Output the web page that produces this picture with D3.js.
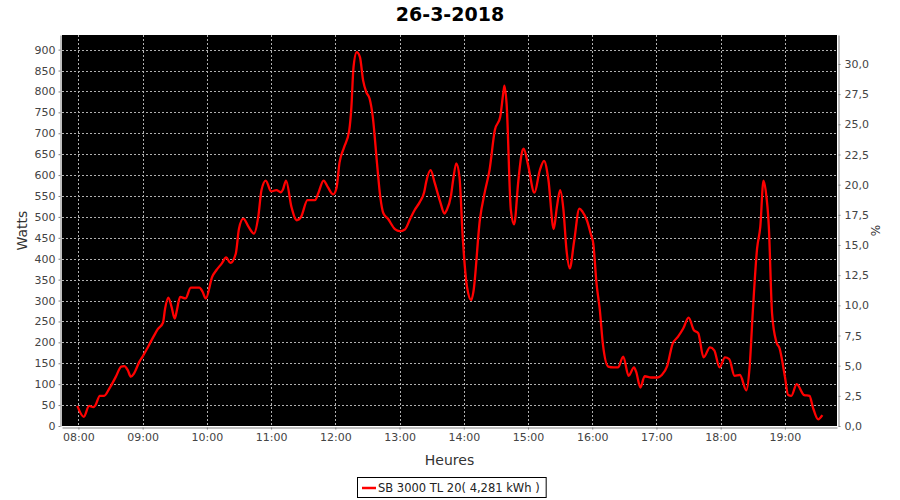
<!DOCTYPE html>
<html>
<head>
<meta charset="utf-8">
<script src="https://cdn.jsdelivr.net/npm/d3@7"></script>
<style>
  html, body { margin: 0; padding: 0; background: #fff; }
  svg { display: block; }
  text { font-family: "DejaVu Sans", sans-serif; }
</style>
</head>
<body>
<svg id="chart" width="900" height="500"></svg>
<script>
// ---- Data ----
const title = "26-3-2018";
const seriesName = "SB 3000 TL 20( 4,281 kWh )";
const times = ["07:59","08:05","08:10","08:14","08:16","08:20","08:24","08:29","08:35","08:40","08:43","08:46","08:49","08:52","08:57",
  "09:00","09:05","09:10","09:14","09:19","09:21","09:24","09:27","09:30","09:32","09:35","09:40","09:45","09:53","09:56","09:59",
  "10:05","10:09","10:14","10:18","10:22","10:27","10:30","10:34","10:39","10:44","10:48","10:51","10:55",
  "11:00","11:05","11:09","11:11","11:14","11:19","11:24","11:28","11:34","11:41","11:44","11:49","11:53","11:58",
  "12:01","12:04","12:08","12:13","12:15","12:17","12:20","12:23","12:26","12:29","12:32","12:35","12:39","12:42","12:45","12:49","12:56",
  "13:00","13:05","13:10","13:14","13:19","13:23","13:25","13:29","13:33","13:38","13:42","13:44","13:48","13:50","13:53","13:56","13:59",
  "14:03","14:07","14:09","14:15","14:20","14:24","14:29","14:34","14:37","14:38","14:40","14:44","14:47","14:51","14:54","14:56",
  "15:00","15:06","15:11","15:15","15:19","15:24","15:27","15:30","15:33","15:36","15:39","15:43","15:48","15:51","15:55","15:59",
  "16:01","16:04","16:07","16:10","16:15","16:20","16:24","16:29","16:34","16:39","16:41","16:45","16:49","16:55",
  "17:01","17:05","17:10","17:15","17:20","17:25","17:30","17:35","17:39","17:44","17:50","17:54","17:59",
  "18:04","18:08","18:13","18:18","18:24","18:27","18:30","18:34","18:37","18:40","18:42","18:45","18:48","18:52","18:55",
  "19:00","19:03","19:06","19:11","19:18","19:23","19:26","19:31","19:35"];
const watts = [48,22,48,45,50,72,72,90,118,142,143,134,118,126,154,
  166,189,213,231,247,281,307,285,257,277,309,305,331,331,321,305,
  357,373,389,403,390,412,472,496,476,460,500,564,587,
  561,564,559,565,587,524,492,500,540,540,556,587,571,554,
  568,631,665,707,762,858,894,882,826,798,783,739,627,548,508,496,470,
  466,470,496,516,536,559,585,612,580,536,508,516,550,587,628,595,452,
  333,301,321,492,564,611,707,739,798,814,771,516,482,587,650,663,
  625,558,611,634,590,471,524,564,520,420,377,440,520,512,492,456,
  436,341,280,195,142,140,140,166,120,140,130,92,119,116,
  116,122,143,196,213,233,259,229,222,164,188,181,140,
  164,160,120,122,85,140,273,424,476,587,564,476,269,201,186,
  118,74,72,100,74,72,46,16,26];
const leftTicks = [0,50,100,150,200,250,300,350,400,450,500,550,600,650,700,750,800,850,900];
const rightTicks = [0,2.5,5,7.5,10,12.5,15,17.5,20,22.5,25,27.5,30];
const hourTicks = ["08:00","09:00","10:00","11:00","12:00","13:00","14:00","15:00","16:00","17:00","18:00","19:00"];
const xDomain = ["07:44:40","19:48:40"];
const leftDomain = [0, 935];
const rightDomain = [0, 32.4];

// ---- Layout ----
const W = 900, H = 500;
const plot = { left: 62, right: 837, top: 35, bottom: 426 };
const svg = d3.select("#chart");

const parseHM = d3.timeParse("%H:%M");
const parseHMS = d3.timeParse("%H:%M:%S");
const x = d3.scaleTime().domain(xDomain.map(parseHMS)).range([plot.left, plot.right]);
const yL = d3.scaleLinear().domain(leftDomain).range([plot.bottom, plot.top]);
const yR = d3.scaleLinear().domain(rightDomain).range([plot.bottom, plot.top]);

// Title
svg.append("text").attr("x", W/2).attr("y", 21).attr("text-anchor", "middle")
  .style("font-size", "19px").style("font-weight", "bold").attr("fill", "#000").text(title);

// Plot background
svg.append("rect").attr("x", plot.left).attr("y", plot.top)
  .attr("width", plot.right - plot.left).attr("height", plot.bottom - plot.top).attr("fill", "#000");

// Grid lines
const grid = svg.append("g").attr("stroke", "#b0b0b0").attr("stroke-width", 1).attr("stroke-dasharray", "2,2");
grid.selectAll("line.h").data(leftTicks.filter(d => d > 0)).join("line")
  .attr("x1", plot.left).attr("x2", plot.right)
  .attr("y1", d => Math.round(yL(d)) + 0.5).attr("y2", d => Math.round(yL(d)) + 0.5);
grid.selectAll("line.v").data(hourTicks.map(parseHM)).join("line")
  .attr("y1", plot.top).attr("y2", plot.bottom)
  .attr("x1", d => Math.round(x(d)) + 0.5).attr("x2", d => Math.round(x(d)) + 0.5);

// Series line
const pts = times.map((t, i) => ({ t: parseHM(t), v: watts[i] }));
const line = d3.line().x(d => x(d.t)).y(d => yL(d.v)).curve(d3.curveMonotoneX);
svg.append("path").datum(pts).attr("d", line)
  .attr("fill", "none").attr("stroke", "#ff0000").attr("stroke-width", 2.3).attr("stroke-linejoin", "round");

// Axes
const tickColor = "#444";
const axisColor = "#808080";
function styleAxis(g) {
  g.selectAll(".domain").attr("stroke", axisColor);
  g.selectAll(".tick line").attr("stroke", axisColor);
  g.selectAll(".tick text").attr("fill", tickColor).style("font-size", "11px").style("font-family", "'DejaVu Sans', sans-serif");
}
const gL = svg.append("g").attr("transform", `translate(${plot.left - 1.5},0)`)
  .call(d3.axisLeft(yL).tickValues(leftTicks).tickSize(2).tickSizeOuter(0).tickPadding(3));
styleAxis(gL);
const gR = svg.append("g").attr("transform", `translate(${plot.right + 1.5},0)`)
  .call(d3.axisRight(yR).tickValues(rightTicks).tickSize(2).tickSizeOuter(0).tickPadding(4)
    .tickFormat(d => d3.format(".1f")(d).replace(".", ",")));
styleAxis(gR);
const gB = svg.append("g").attr("transform", `translate(0,${plot.bottom + 1.5})`)
  .call(d3.axisBottom(x).tickValues(hourTicks.map(parseHM)).tickSize(2).tickSizeOuter(0).tickPadding(4)
    .tickFormat(d3.timeFormat("%H:%M")));
styleAxis(gB);

// Axis titles
svg.append("text").attr("transform", `translate(27,${(plot.top + plot.bottom)/2}) rotate(-90)`)
  .attr("text-anchor", "middle").style("font-size", "14px").attr("fill", "#333").text("Watts");
svg.append("text").attr("transform", `translate(880,${(plot.top + plot.bottom)/2}) rotate(-90)`)
  .attr("text-anchor", "middle").style("font-size", "12px").attr("fill", "#333").text("%");
svg.append("text").attr("x", (plot.left + plot.right)/2).attr("y", 465).attr("text-anchor", "middle")
  .style("font-size", "14px").attr("fill", "#333").text("Heures");

// Legend
const lg = svg.append("g");
const lt = lg.append("text").attr("y", 492).style("font-size", "11.5px").attr("fill", "#222").text(seriesName);
const tw = lt.node().getComputedTextLength();
const boxW = tw + 27, boxX = Math.round(451 - boxW/2);
lg.insert("rect", "text").attr("x", boxX + 0.5).attr("y", 477.5).attr("width", boxW).attr("height", 20)
  .attr("fill", "#fff").attr("stroke", "#000");
lg.append("line").attr("x1", boxX + 5).attr("x2", boxX + 19).attr("y1", 488).attr("y2", 488)
  .attr("stroke", "#ff0000").attr("stroke-width", 2.5);
lt.attr("x", boxX + 21);
</script>
</body>
</html>
